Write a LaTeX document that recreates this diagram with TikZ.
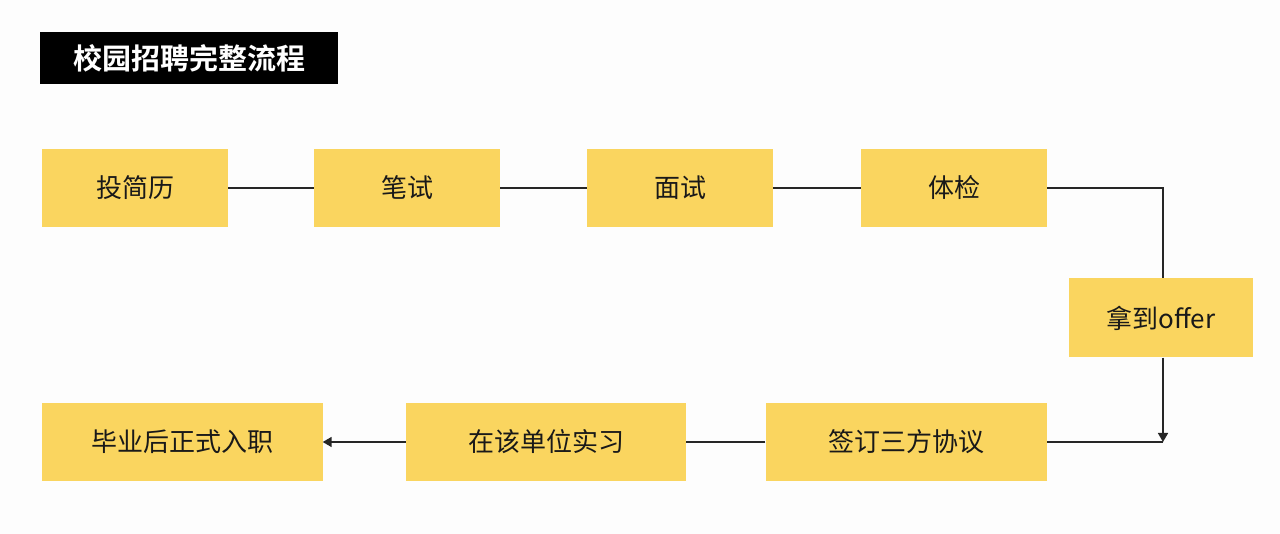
\documentclass[tikz,border=0pt]{standalone}
\usepackage{fontspec}
\newfontfamily\cjk{Noto Sans CJK SC}
\newfontfamily\cjkb{Noto Sans CJK SC Bold}
\usetikzlibrary{arrows.meta}
\definecolor{boxy}{HTML}{FAD55F}
\definecolor{bg}{HTML}{FDFDFD}
\tikzset{
  stepbox/.style={fill=boxy, minimum height=78pt, inner sep=0pt, font=\cjk\fontsize{26}{30}\selectfont, text=black!90},
  conn/.style={line width=1.6pt, black!85},
  arr/.style={conn, -{Triangle[length=9pt,width=10pt]}}
}
\begin{document}
\begin{tikzpicture}[x=1pt,y=-1pt]
\fill[bg] (0,0) rectangle (1280,534);
\useasboundingbox (0,0) rectangle (1280,534);
\node[fill=black, text=white, minimum width=298pt, minimum height=52pt, inner sep=0pt, font=\cjkb\fontsize{29}{32}\selectfont] (title) at (189,58) {校园招聘完整流程};
\node[stepbox, minimum width=186pt] (a) at (135,188) {投简历};
\node[stepbox, minimum width=186pt] (b) at (407,188) {笔试};
\node[stepbox, minimum width=186pt] (c) at (680,188) {面试};
\node[stepbox, minimum width=186pt] (d) at (954,188) {体检};
\node[stepbox, minimum width=184pt, minimum height=79pt] (e) at (1161,318) {拿到offer};
\node[stepbox, minimum width=281pt] (h) at (182,442) {毕业后正式入职};
\node[stepbox, minimum width=280pt] (g) at (546,442) {在该单位实习};
\node[stepbox, minimum width=281pt] (f) at (906,442) {签订三方协议};
\coordinate (k1) at (1163,188);
\coordinate (k2) at (1163,442);
\draw[conn] (a) -- (b);
\draw[conn] (b) -- (c);
\draw[conn] (c) -- (d);
\draw[conn] (d.east) -- (k1) -- (e.north -| k1);
\draw[arr] (e.south -| k2) -- (k2);
\draw[conn] (k2) -- (f.east);
\draw[conn] (f) -- (g);
\draw[arr] (g) -- (h);
\end{tikzpicture}
\end{document}
